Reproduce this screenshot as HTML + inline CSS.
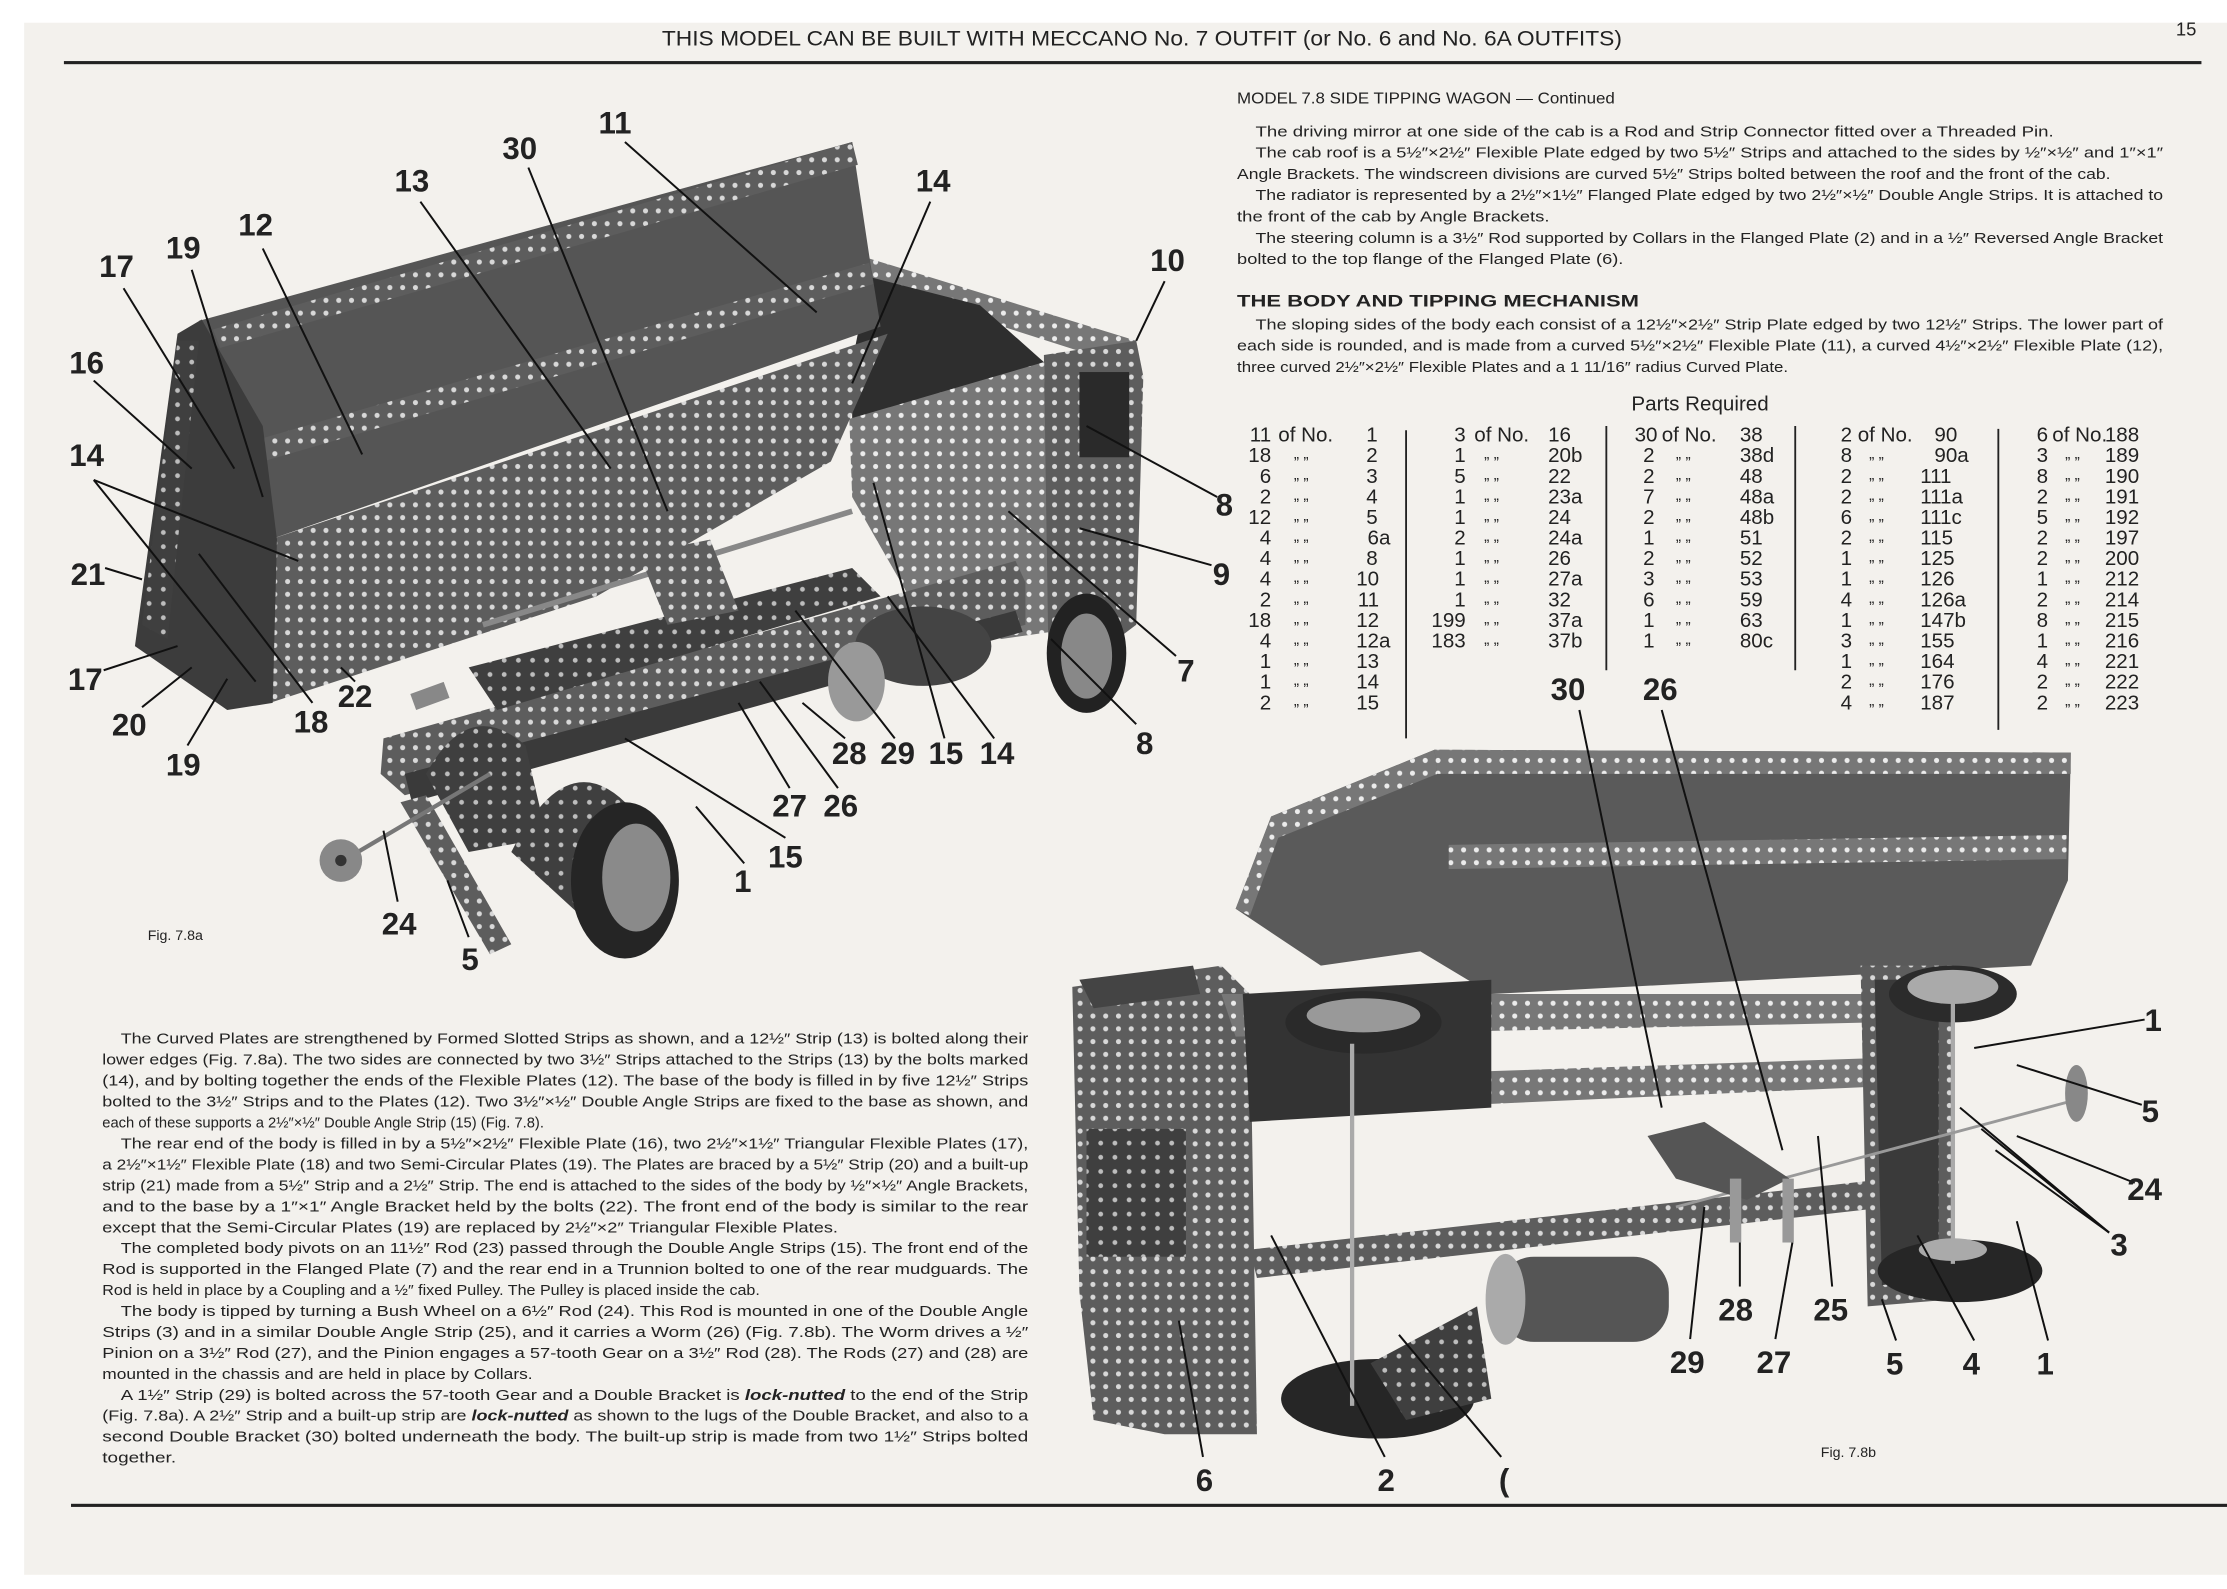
<!DOCTYPE html>
<html><head><meta charset="utf-8"><style>
html,body{margin:0;padding:0;background:#fff;}
svg{display:block;}
text{font-family:"Liberation Sans",sans-serif;fill:#222;}
.b{font-size:10.5px;}
.lab{font-size:22px;font-weight:bold;fill:#111;}
.tb{font-size:14.5px;fill:#2a2a2a;}
.d{font-size:11px;fill:#2a2a2a;}
</style></head><body>
<svg width="2227" height="1589" viewBox="0 0 1568 1119" preserveAspectRatio="none" xmlns="http://www.w3.org/2000/svg">
<defs>
<pattern id="holes" width="9" height="9" patternUnits="userSpaceOnUse">
<rect width="9" height="9" fill="#5d5d5d"/><circle cx="4.5" cy="4.5" r="1.8" fill="#d8d8d8"/>
</pattern>
<pattern id="holesd" width="10" height="10" patternUnits="userSpaceOnUse">
<rect width="10" height="10" fill="#3f3f3f"/><circle cx="5" cy="5" r="1.7" fill="#bdbdbd"/>
</pattern>
<pattern id="holesl" width="9" height="9" patternUnits="userSpaceOnUse">
<rect width="9" height="9" fill="#777"/><circle cx="4.5" cy="4.5" r="1.8" fill="#ececec"/>
</pattern>
</defs>
<rect width="1568" height="1119" fill="#fff"/>
<rect x="17" y="16" width="1551" height="1093" fill="#f3f1ed"/>

<!-- header -->
<text x="466" y="32" font-size="15" textLength="676" lengthAdjust="spacingAndGlyphs">THIS MODEL CAN BE BUILT WITH MECCANO No. 7 OUTFIT (or No. 6 and No. 6A OUTFITS)</text>
<text x="1532" y="25" font-size="13">15</text>
<rect x="45" y="43" width="1505" height="2.2" fill="#222"/>
<rect x="50" y="1059" width="1518" height="2.2" fill="#222"/>

<!-- right top text -->
<text x="871" y="73" font-size="11" textLength="266" lengthAdjust="spacingAndGlyphs">MODEL 7.8  SIDE TIPPING WAGON — Continued</text>
<g class="b">
<text x="884" y="96" textLength="562" lengthAdjust="spacingAndGlyphs">The driving mirror at one side of the cab is a Rod and Strip Connector fitted over a Threaded Pin.</text>
<text x="884" y="111" textLength="639" lengthAdjust="spacingAndGlyphs">The cab roof is a 5½″×2½″ Flexible Plate edged by two 5½″ Strips and attached to the sides by ½″×½″ and 1″×1″</text>
<text x="871" y="126" textLength="615" lengthAdjust="spacingAndGlyphs">Angle Brackets. The windscreen divisions are curved 5½″ Strips bolted between the roof and the front of the cab.</text>
<text x="884" y="141" textLength="639" lengthAdjust="spacingAndGlyphs">The radiator is represented by a 2½″×1½″ Flanged Plate edged by two 2½″×½″ Double Angle Strips. It is attached to</text>
<text x="871" y="156" textLength="220" lengthAdjust="spacingAndGlyphs">the front of the cab by Angle Brackets.</text>
<text x="884" y="171" textLength="639" lengthAdjust="spacingAndGlyphs">The steering column is a 3½″ Rod supported by Collars in the Flanged Plate (2) and in a ½″ Reversed Angle Bracket</text>
<text x="871" y="186" textLength="272" lengthAdjust="spacingAndGlyphs">bolted to the top flange of the Flanged Plate (6).</text>
<text x="871" y="216" font-size="12" font-weight="bold" textLength="283" lengthAdjust="spacingAndGlyphs">THE BODY AND TIPPING MECHANISM</text>
<text x="884" y="232" textLength="639" lengthAdjust="spacingAndGlyphs">The sloping sides of the body each consist of a 12½″×2½″ Strip Plate edged by two 12½″ Strips.  The lower part of</text>
<text x="871" y="247" textLength="652" lengthAdjust="spacingAndGlyphs">each side is rounded, and is made from a curved 5½″×2½″ Flexible Plate (11), a curved 4½″×2½″ Flexible Plate (12),</text>
<text x="871" y="262" textLength="388" lengthAdjust="spacingAndGlyphs">three curved 2½″×2½″ Flexible Plates and a 1 11/16″ radius Curved Plate.</text>
</g>
<text x="1197" y="289" font-size="14.5" text-anchor="middle">Parts Required</text>

<!-- table -->
<g class="tb">
<g text-anchor="end">
<text x="895" y="311">11</text><text x="895" y="325.5">18</text><text x="895" y="340">6</text><text x="895" y="354.5">2</text><text x="895" y="369">12</text><text x="895" y="383.5">4</text><text x="895" y="398">4</text><text x="895" y="412.5">4</text><text x="895" y="427">2</text><text x="895" y="441.5">18</text><text x="895" y="456">4</text><text x="895" y="470.5">1</text><text x="895" y="485">1</text><text x="895" y="499.5">2</text>
</g>
<text x="900" y="311">of No.</text>
<g text-anchor="end">
<text x="970" y="311">1</text><text x="970" y="325.5">2</text><text x="970" y="340">3</text><text x="970" y="354.5">4</text><text x="970" y="369">5</text><text x="979" y="383.5">6a</text><text x="970" y="398">8</text><text x="971" y="412.5">10</text><text x="971" y="427">11</text><text x="971" y="441.5">12</text><text x="979" y="456">12a</text><text x="971" y="470.5">13</text><text x="971" y="485">14</text><text x="971" y="499.5">15</text>
</g>
<g text-anchor="end">
<text x="1032" y="311">3</text><text x="1032" y="325.5">1</text><text x="1032" y="340">5</text><text x="1032" y="354.5">1</text><text x="1032" y="369">1</text><text x="1032" y="383.5">2</text><text x="1032" y="398">1</text><text x="1032" y="412.5">1</text><text x="1032" y="427">1</text><text x="1032" y="441.5">199</text><text x="1032" y="456">183</text>
</g>
<text x="1038" y="311">of No.</text>
<text x="1090" y="311">16</text><text x="1090" y="325.5">20b</text><text x="1090" y="340">22</text><text x="1090" y="354.5">23a</text><text x="1090" y="369">24</text><text x="1090" y="383.5">24a</text><text x="1090" y="398">26</text><text x="1090" y="412.5">27a</text><text x="1090" y="427">32</text><text x="1090" y="441.5">37a</text><text x="1090" y="456">37b</text>
<g text-anchor="end">
<text x="1167" y="311">30</text><text x="1165" y="325.5">2</text><text x="1165" y="340">2</text><text x="1165" y="354.5">7</text><text x="1165" y="369">2</text><text x="1165" y="383.5">1</text><text x="1165" y="398">2</text><text x="1165" y="412.5">3</text><text x="1165" y="427">6</text><text x="1165" y="441.5">1</text><text x="1165" y="456">1</text>
</g>
<text x="1170" y="311">of No.</text>
<text x="1225" y="311">38</text><text x="1225" y="325.5">38d</text><text x="1225" y="340">48</text><text x="1225" y="354.5">48a</text><text x="1225" y="369">48b</text><text x="1225" y="383.5">51</text><text x="1225" y="398">52</text><text x="1225" y="412.5">53</text><text x="1225" y="427">59</text><text x="1225" y="441.5">63</text><text x="1225" y="456">80c</text>
<g text-anchor="end">
<text x="1304" y="311">2</text><text x="1304" y="325.5">8</text><text x="1304" y="340">2</text><text x="1304" y="354.5">2</text><text x="1304" y="369">6</text><text x="1304" y="383.5">2</text><text x="1304" y="398">1</text><text x="1304" y="412.5">1</text><text x="1304" y="427">4</text><text x="1304" y="441.5">1</text><text x="1304" y="456">3</text><text x="1304" y="470.5">1</text><text x="1304" y="485">2</text><text x="1304" y="499.5">4</text>
</g>
<text x="1308" y="311">of No.</text>
<text x="1362" y="311">90</text><text x="1362" y="325.5">90a</text><text x="1352" y="340">111</text><text x="1352" y="354.5">111a</text><text x="1352" y="369">111c</text><text x="1352" y="383.5">115</text><text x="1352" y="398">125</text><text x="1352" y="412.5">126</text><text x="1352" y="427">126a</text><text x="1352" y="441.5">147b</text><text x="1352" y="456">155</text><text x="1352" y="470.5">164</text><text x="1352" y="485">176</text><text x="1352" y="499.5">187</text>
<g text-anchor="end">
<text x="1442" y="311">6</text><text x="1442" y="325.5">3</text><text x="1442" y="340">8</text><text x="1442" y="354.5">2</text><text x="1442" y="369">5</text><text x="1442" y="383.5">2</text><text x="1442" y="398">2</text><text x="1442" y="412.5">1</text><text x="1442" y="427">2</text><text x="1442" y="441.5">8</text><text x="1442" y="456">1</text><text x="1442" y="470.5">4</text><text x="1442" y="485">2</text><text x="1442" y="499.5">2</text>
</g>
<text x="1445" y="311">of No.</text>
<text x="1482" y="311">188</text><text x="1482" y="325.5">189</text><text x="1482" y="340">190</text><text x="1482" y="354.5">191</text><text x="1482" y="369">192</text><text x="1482" y="383.5">197</text><text x="1482" y="398">200</text><text x="1482" y="412.5">212</text><text x="1482" y="427">214</text><text x="1482" y="441.5">215</text><text x="1482" y="456">216</text><text x="1482" y="470.5">221</text><text x="1482" y="485">222</text><text x="1482" y="499.5">223</text>
</g>
<g class="d">
<text x="911" y="323">„     „</text><text x="911" y="337.5">„     „</text><text x="911" y="352">„     „</text><text x="911" y="366.5">„     „</text><text x="911" y="381">„     „</text><text x="911" y="395.5">„     „</text><text x="911" y="410">„     „</text><text x="911" y="424.5">„     „</text><text x="911" y="439">„     „</text><text x="911" y="453.5">„     „</text><text x="911" y="468">„     „</text><text x="911" y="482.5">„     „</text><text x="911" y="497">„     „</text>
<text x="1045" y="323">„     „</text><text x="1045" y="337.5">„     „</text><text x="1045" y="352">„     „</text><text x="1045" y="366.5">„     „</text><text x="1045" y="381">„     „</text><text x="1045" y="395.5">„     „</text><text x="1045" y="410">„     „</text><text x="1045" y="424.5">„     „</text><text x="1045" y="439">„     „</text><text x="1045" y="453.5">„     „</text>
<text x="1180" y="323">„     „</text><text x="1180" y="337.5">„     „</text><text x="1180" y="352">„     „</text><text x="1180" y="366.5">„     „</text><text x="1180" y="381">„     „</text><text x="1180" y="395.5">„     „</text><text x="1180" y="410">„     „</text><text x="1180" y="424.5">„     „</text><text x="1180" y="439">„     „</text><text x="1180" y="453.5">„     „</text>
<text x="1316" y="323">„     „</text><text x="1316" y="337.5">„     „</text><text x="1316" y="352">„     „</text><text x="1316" y="366.5">„     „</text><text x="1316" y="381">„     „</text><text x="1316" y="395.5">„     „</text><text x="1316" y="410">„     „</text><text x="1316" y="424.5">„     „</text><text x="1316" y="439">„     „</text><text x="1316" y="453.5">„     „</text><text x="1316" y="468">„     „</text><text x="1316" y="482.5">„     „</text><text x="1316" y="497">„     „</text>
<text x="1454" y="323">„     „</text><text x="1454" y="337.5">„     „</text><text x="1454" y="352">„     „</text><text x="1454" y="366.5">„     „</text><text x="1454" y="381">„     „</text><text x="1454" y="395.5">„     „</text><text x="1454" y="410">„     „</text><text x="1454" y="424.5">„     „</text><text x="1454" y="439">„     „</text><text x="1454" y="453.5">„     „</text><text x="1454" y="468">„     „</text><text x="1454" y="482.5">„     „</text><text x="1454" y="497">„     „</text>
</g>
<g stroke="#222" stroke-width="1.3">
<line x1="990" y1="303" x2="990" y2="520"/><line x1="1131" y1="300" x2="1131" y2="472"/><line x1="1264" y1="300" x2="1264" y2="472"/><line x1="1407" y1="302" x2="1407" y2="514"/>
</g>

<!-- bottom left text -->
<g class="b">
<text x="85" y="735" textLength="639" lengthAdjust="spacingAndGlyphs">The Curved Plates are strengthened by Formed Slotted Strips as shown, and a 12½″ Strip (13) is bolted along their</text>
<text x="72" y="749.8" textLength="652" lengthAdjust="spacingAndGlyphs">lower edges (Fig. 7.8a). The two sides are connected by two 3½″ Strips attached to the Strips (13) by the bolts marked</text>
<text x="72" y="764.5" textLength="652" lengthAdjust="spacingAndGlyphs">(14), and by bolting together the ends of the Flexible Plates (12). The base of the body is filled in by five 12½″ Strips</text>
<text x="72" y="779.3" textLength="652" lengthAdjust="spacingAndGlyphs">bolted to the 3½″ Strips and to the Plates (12). Two 3½″×½″ Double Angle Strips are fixed to the base as shown, and</text>
<text x="72" y="794" textLength="311" lengthAdjust="spacingAndGlyphs">each of these supports a 2½″×½″ Double Angle Strip (15) (Fig. 7.8).</text>
<text x="85" y="808.8" textLength="639" lengthAdjust="spacingAndGlyphs">The rear end of the body is filled in by a 5½″×2½″ Flexible Plate (16), two 2½″×1½″ Triangular Flexible Plates (17),</text>
<text x="72" y="823.5" textLength="652" lengthAdjust="spacingAndGlyphs">a 2½″×1½″ Flexible Plate (18) and two Semi-Circular Plates (19). The Plates are braced by a 5½″ Strip (20) and a built-up</text>
<text x="72" y="838.3" textLength="652" lengthAdjust="spacingAndGlyphs">strip (21) made from a 5½″ Strip and a 2½″ Strip. The end is attached to the sides of the body by ½″×½″ Angle Brackets,</text>
<text x="72" y="853" textLength="652" lengthAdjust="spacingAndGlyphs">and to the base by a 1″×1″ Angle Bracket held by the bolts (22). The front end of the body is similar to the rear</text>
<text x="72" y="867.8" textLength="518" lengthAdjust="spacingAndGlyphs">except that the Semi-Circular Plates (19) are replaced by 2½″×2″ Triangular Flexible Plates.</text>
<text x="85" y="882.5" textLength="639" lengthAdjust="spacingAndGlyphs">The completed body pivots on an 11½″ Rod (23) passed through the Double Angle Strips (15). The front end of the</text>
<text x="72" y="897.3" textLength="652" lengthAdjust="spacingAndGlyphs">Rod is supported in the Flanged Plate (7) and the rear end in a Trunnion bolted to one of the rear mudguards. The</text>
<text x="72" y="912" textLength="463" lengthAdjust="spacingAndGlyphs">Rod is held in place by a Coupling and a ½″ fixed Pulley. The Pulley is placed inside the cab.</text>
<text x="85" y="926.8" textLength="639" lengthAdjust="spacingAndGlyphs">The body is tipped by turning a Bush Wheel on a 6½″ Rod (24). This Rod is mounted in one of the Double Angle</text>
<text x="72" y="941.5" textLength="652" lengthAdjust="spacingAndGlyphs">Strips (3) and in a similar Double Angle Strip (25), and it carries a Worm (26) (Fig. 7.8b). The Worm drives a ½″</text>
<text x="72" y="956.3" textLength="652" lengthAdjust="spacingAndGlyphs">Pinion on a 3½″ Rod (27), and the Pinion engages a 57-tooth Gear on a 3½″ Rod (28). The Rods (27) and (28) are</text>
<text x="72" y="971" textLength="303" lengthAdjust="spacingAndGlyphs">mounted in the chassis and are held in place by Collars.</text>
<text x="85" y="985.8" textLength="639" lengthAdjust="spacingAndGlyphs">A 1½″ Strip (29) is bolted across the 57-tooth Gear and a Double Bracket is <tspan font-style="italic" font-weight="bold">lock-nutted</tspan>  to the end of the Strip</text>
<text x="72" y="1000.5" textLength="652" lengthAdjust="spacingAndGlyphs">(Fig. 7.8a). A 2½″ Strip and a built-up strip are <tspan font-style="italic" font-weight="bold">lock-nutted</tspan> as shown to the lugs of the Double Bracket, and also to a</text>
<text x="72" y="1015.3" textLength="652" lengthAdjust="spacingAndGlyphs">second Double Bracket (30) bolted underneath the body. The built-up strip is made from two 1½″ Strips bolted</text>
<text x="72" y="1030" textLength="52" lengthAdjust="spacingAndGlyphs">together.</text>
</g>

<!-- FIG 7.8a -->
<g>
<polygon points="612,182 800,240 800,260 612,200" fill="url(#holesl)"/>
<polygon points="612,195 690,215 735,255 735,445 690,430 600,300 600,255" fill="#2e2e2e"/>
<polygon points="598,295 735,255 740,445 705,450 640,420 600,350" fill="url(#holesl)"/>
<polygon points="735,250 800,240 805,265 800,440 760,470 738,450" fill="url(#holes)"/>
<rect x="760" y="262" width="35" height="60" fill="#2a2a2a"/>
<ellipse cx="765" cy="460" rx="28" ry="42" fill="#222"/><ellipse cx="765" cy="462" rx="18" ry="30" fill="#888"/>
<polygon points="140,226 600,100 612,180 620,230 190,380 180,300" fill="#555"/>
<polygon points="150,232 600,100 604,116 155,245" fill="url(#holes)"/>
<polygon points="180,310 612,185 615,200 185,325" fill="url(#holes)"/>
<polygon points="190,380 625,235 585,325 420,420 190,495" fill="url(#holes)"/>
<polygon points="125,235 142,225 185,300 195,380 192,495 160,500 95,455" fill="#3c3c3c"/>
<polygon points="100,440 125,240 140,240 118,450" fill="url(#holesd)"/>
<polygon points="270,520 715,395 722,410 722,440 285,560 268,545" fill="url(#holes)"/>
<polygon points="330,470 600,400 620,420 350,500" fill="url(#holesd)"/>
<polygon points="285,545 715,430 720,445 290,565" fill="#3a3a3a"/>
<ellipse cx="650" cy="455" rx="48" ry="28" fill="#444"/><ellipse cx="603" cy="480" rx="20" ry="28" fill="#999"/>
<path d="M300,545 Q330,490 370,525 L385,590 L330,600 Z" fill="url(#holesd)"/>
<path d="M360,600 Q400,520 445,570 L470,640 L420,655 Z" fill="url(#holesd)"/>
<ellipse cx="440" cy="620" rx="38" ry="55" fill="#252525"/><ellipse cx="448" cy="618" rx="24" ry="38" fill="#8a8a8a"/>
<polygon points="282,565 300,560 360,665 345,672" fill="url(#holes)"/>
<line x1="235" y1="610" x2="345" y2="545" stroke="#777" stroke-width="3"/>
<circle cx="240" cy="606" r="15" fill="#888"/><circle cx="240" cy="606" r="4" fill="#333"/>
<rect x="290" y="485" width="25" height="12" fill="#888" transform="rotate(-20 300 490)"/>
<line x1="340" y1="440" x2="600" y2="360" stroke="#888" stroke-width="4"/>
<polygon points="450,390 500,380 520,430 470,440" fill="url(#holes)"/>
</g>
<text x="104" y="662" font-size="10">Fig. 7.8a</text>

<!-- FIG 7.8b -->
<g>
<polygon points="870,640 895,575 1010,528 1458,530 1456,620 1430,680 1050,700 1000,670 930,680" fill="#5a5a5a"/>
<polygon points="1010,528 1458,530 1458,545 1012,545" fill="url(#holesl)"/>
<polygon points="1020,595 1455,588 1455,605 1020,612" fill="url(#holesl)"/>
<polygon points="870,640 895,575 1010,528 1012,545 900,590 880,645" fill="url(#holesl)"/>
<polygon points="755,695 860,680 880,700 885,1010 820,1010 770,1000 760,910" fill="url(#holes)"/>
<polygon points="760,690 840,680 845,700 770,710" fill="#444"/>
<rect x="765" y="795" width="70" height="90" fill="url(#holesd)"/>
<polygon points="860,700 1330,700 1320,720 870,730" fill="url(#holesl)"/>
<polygon points="880,760 1325,745 1325,765 880,785" fill="url(#holesl)"/>
<polygon points="880,880 1330,830 1330,850 885,900" fill="url(#holes)"/>
<polygon points="875,700 1050,690 1050,780 880,790" fill="#333"/>
<ellipse cx="960" cy="720" rx="55" ry="22" fill="#2a2a2a"/><ellipse cx="960" cy="715" rx="40" ry="12" fill="#999"/>
<polygon points="1310,680 1375,680 1375,915 1315,920" fill="url(#holes)"/>
<polygon points="1320,690 1365,690 1365,900 1325,905" fill="#3a3a3a"/>
<ellipse cx="1375" cy="700" rx="45" ry="20" fill="#2b2b2b"/><ellipse cx="1375" cy="695" rx="32" ry="12" fill="#aaa"/>
<ellipse cx="1380" cy="895" rx="58" ry="22" fill="#262626"/><ellipse cx="1375" cy="880" rx="24" ry="8" fill="#aaa"/>
<ellipse cx="970" cy="985" rx="68" ry="28" fill="#262626"/>
<polygon points="965,960 1040,920 1050,985 990,1000" fill="url(#holesd)"/>
<rect x="1055" y="885" width="120" height="60" rx="25" fill="#555"/>
<ellipse cx="1060" cy="915" rx="14" ry="32" fill="#aaa"/>
<line x1="952" y1="735" x2="952" y2="990" stroke="#aaa" stroke-width="3"/>
<line x1="1375" y1="700" x2="1375" y2="890" stroke="#aaa" stroke-width="3"/>
<line x1="1180" y1="850" x2="1460" y2="775" stroke="#999" stroke-width="2"/>
<ellipse cx="1462" cy="770" rx="8" ry="20" fill="#888"/>
<polygon points="1160,800 1200,790 1260,830 1230,845 1180,830" fill="#555"/>
<rect x="1218" y="830" width="8" height="45" fill="#999"/><rect x="1255" y="830" width="8" height="45" fill="#999"/>
</g>
<text x="1282" y="1026" font-size="10">Fig. 7.8b</text>

<!-- leader lines -->
<g stroke="#111" stroke-width="1.4" fill="none">
<line x1="440" y1="100" x2="575" y2="220"/>
<line x1="372" y1="118" x2="470" y2="360"/>
<line x1="296" y1="142" x2="430" y2="330"/>
<line x1="655" y1="142" x2="600" y2="270"/>
<line x1="185" y1="175" x2="255" y2="320"/>
<line x1="135" y1="190" x2="185" y2="350"/>
<line x1="87" y1="203" x2="165" y2="330"/>
<line x1="820" y1="198" x2="800" y2="240"/>
<line x1="66" y1="268" x2="135" y2="330"/>
<line x1="66" y1="338" x2="210" y2="395"/><line x1="66" y1="338" x2="180" y2="480"/>
<line x1="74" y1="400" x2="100" y2="408"/>
<line x1="857" y1="350" x2="765" y2="300"/>
<line x1="853" y1="398" x2="760" y2="372"/>
<line x1="828" y1="462" x2="710" y2="360"/>
<line x1="73" y1="472" x2="125" y2="455"/>
<line x1="250" y1="480" x2="240" y2="470"/>
<line x1="100" y1="498" x2="135" y2="470"/>
<line x1="220" y1="495" x2="140" y2="390"/>
<line x1="800" y1="510" x2="740" y2="450"/>
<line x1="595" y1="520" x2="565" y2="495"/>
<line x1="630" y1="520" x2="560" y2="430"/>
<line x1="665" y1="520" x2="615" y2="340"/>
<line x1="700" y1="520" x2="625" y2="420"/>
<line x1="132" y1="525" x2="160" y2="478"/>
<line x1="556" y1="555" x2="520" y2="495"/>
<line x1="590" y1="555" x2="535" y2="480"/>
<line x1="553" y1="590" x2="440" y2="520"/>
<line x1="524" y1="608" x2="490" y2="568"/>
<line x1="280" y1="635" x2="270" y2="585"/>
<line x1="330" y1="660" x2="315" y2="620"/>
<line x1="1112" y1="500" x2="1170" y2="780"/>
<line x1="1170" y1="500" x2="1255" y2="810"/>
<line x1="1510" y1="718" x2="1390" y2="738"/>
<line x1="1508" y1="778" x2="1420" y2="750"/>
<line x1="1503" y1="833" x2="1420" y2="800"/>
<line x1="1485" y1="868" x2="1380" y2="780"/><line x1="1485" y1="868" x2="1395" y2="795"/><line x1="1485" y1="868" x2="1405" y2="810"/>
<line x1="1225" y1="906" x2="1225" y2="875"/>
<line x1="1290" y1="906" x2="1280" y2="800"/>
<line x1="1190" y1="943" x2="1200" y2="850"/>
<line x1="1250" y1="943" x2="1262" y2="875"/>
<line x1="1335" y1="944" x2="1325" y2="915"/>
<line x1="1390" y1="944" x2="1350" y2="870"/>
<line x1="1442" y1="944" x2="1420" y2="860"/>
<line x1="847" y1="1026" x2="830" y2="930"/>
<line x1="975" y1="1026" x2="895" y2="870"/>
<line x1="1057" y1="1026" x2="985" y2="940"/>
</g>

<!-- labels -->
<g class="lab" text-anchor="middle">
<text x="433" y="94">11</text><text x="366" y="112">30</text><text x="290" y="135">13</text><text x="657" y="135">14</text>
<text x="180" y="166">12</text><text x="129" y="182">19</text><text x="82" y="195">17</text><text x="822" y="191">10</text>
<text x="61" y="263">16</text><text x="61" y="328">14</text><text x="62" y="412">21</text>
<text x="862" y="363">8</text><text x="860" y="412">9</text><text x="835" y="480">7</text>
<text x="60" y="486">17</text><text x="250" y="498">22</text><text x="91" y="518">20</text><text x="219" y="516">18</text>
<text x="806" y="531">8</text><text x="598" y="538">28</text><text x="632" y="538">29</text><text x="666" y="538">15</text><text x="702" y="538">14</text>
<text x="129" y="546">19</text><text x="556" y="575">27</text><text x="592" y="575">26</text><text x="553" y="611">15</text><text x="523" y="628">1</text>
<text x="281" y="658">24</text><text x="331" y="683">5</text>
<text x="1104" y="493">30</text><text x="1169" y="493">26</text>
<text x="1516" y="726">1</text><text x="1514" y="790">5</text><text x="1510" y="845">24</text><text x="1492" y="884">3</text>
<text x="1222" y="930">28</text><text x="1289" y="930">25</text><text x="1188" y="967">29</text><text x="1249" y="967">27</text>
<text x="1334" y="968">5</text><text x="1388" y="968">4</text><text x="1440" y="968">1</text>
<text x="848" y="1050">6</text><text x="976" y="1050">2</text><text x="1059" y="1050">(</text>
</g>
</svg>
</body></html>
